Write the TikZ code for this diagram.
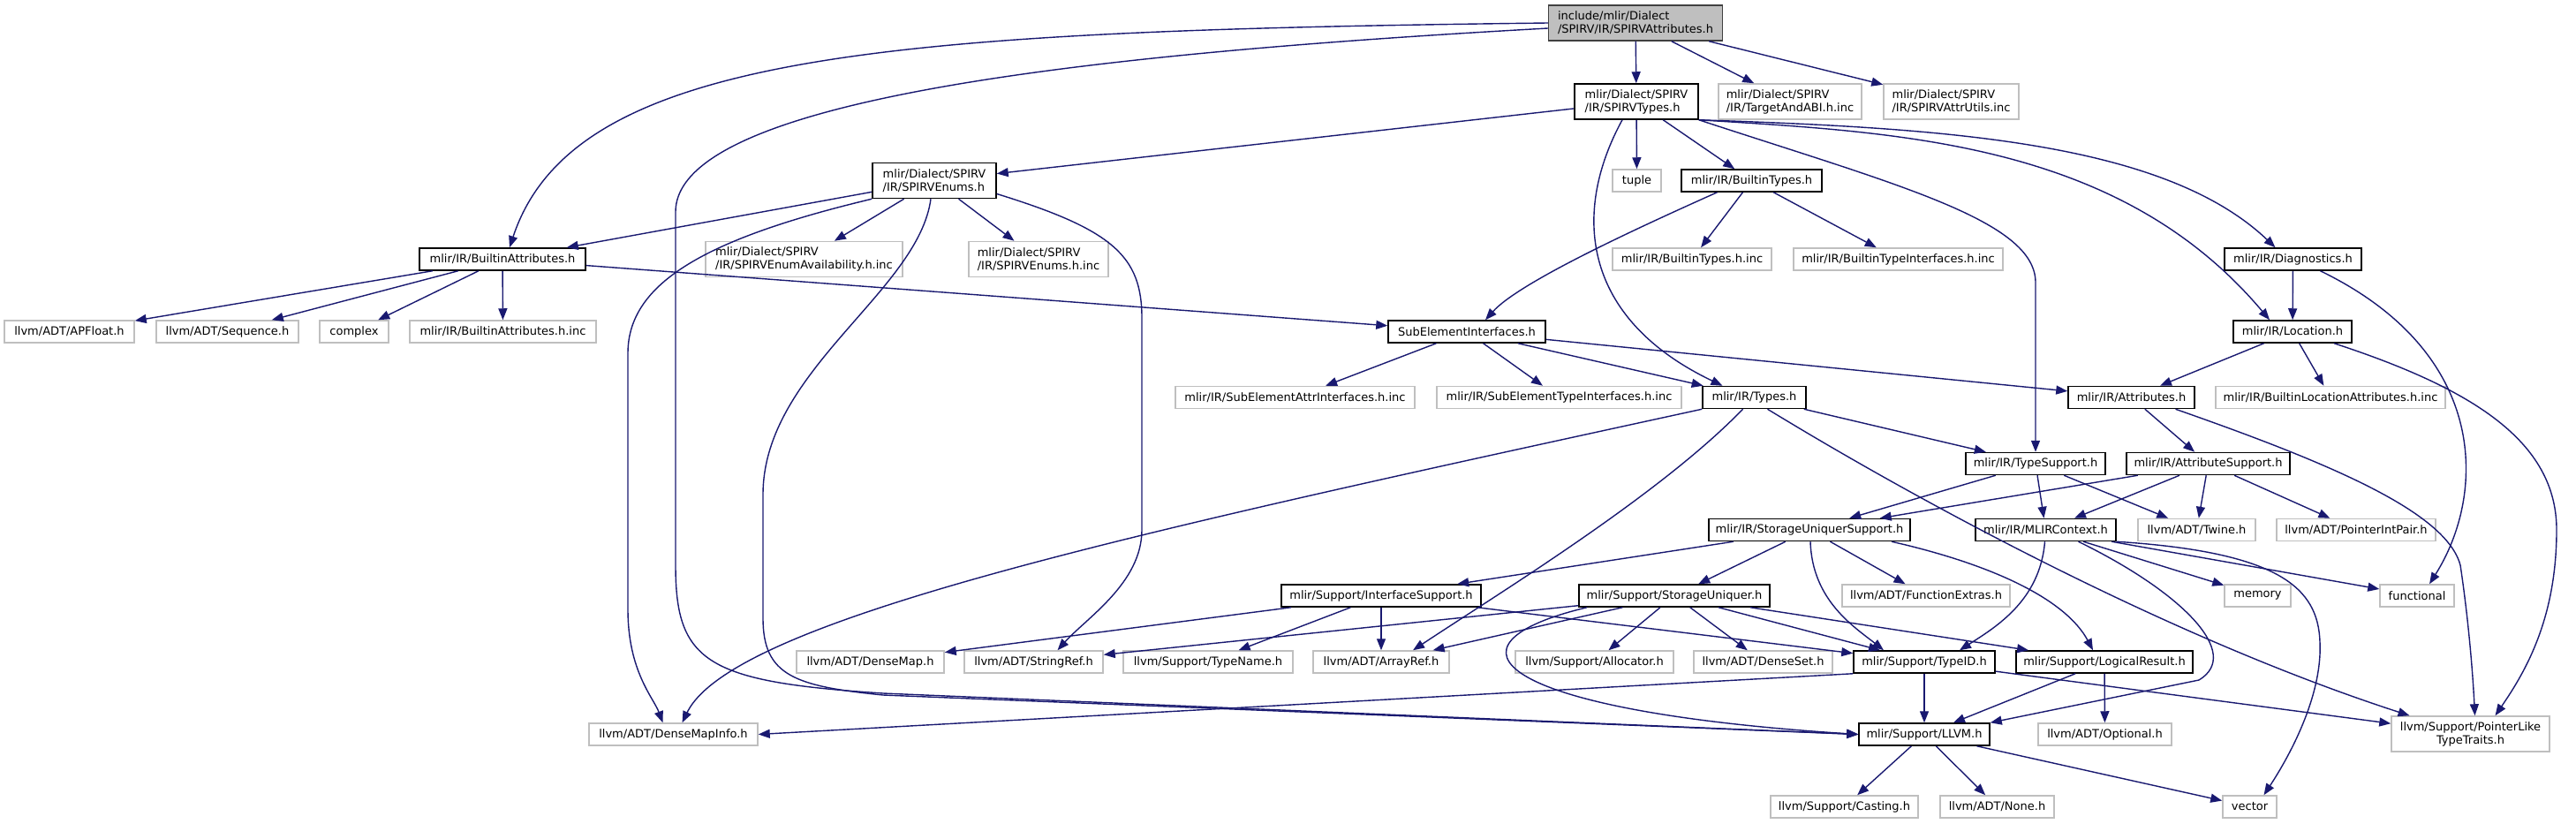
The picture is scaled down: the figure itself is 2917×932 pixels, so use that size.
\documentclass[tikz,border=0pt]{standalone}
\usepackage{fontspec}
\setmainfont{DejaVu Sans}
\usetikzlibrary{arrows.meta}
\definecolor{dxedge}{HTML}{191970}
\definecolor{dxgrey}{HTML}{BFBFBF}
\definecolor{dxrootline}{HTML}{404040}
\tikzset{
  every picture/.style={font=\fontsize{13}{15}\selectfont},
  hdr/.style={draw=black, fill=white, line width=1.5pt, inner sep=2pt, minimum height=25pt, align=center},
  ext/.style={hdr, draw=dxgrey},
  rootbox/.style={hdr, draw=dxrootline, fill=dxgrey},
  twoline/.style={minimum height=40pt, align=left},
  dep/.style={draw=dxedge, line width=1.4pt, -{Triangle[length=13pt, width=10pt]}},
}
\begin{document}
\begin{tikzpicture}[x=1pt, y=-1pt]
  \useasboundingbox (0,0) rectangle (2917,932);
  % row 0 and 1
  \node[rootbox, twoline, minimum width=197pt] (root) at (1852,26) {include/mlir/Dialect\\/SPIRV/IR/SPIRVAttributes.h};
  \node[hdr, twoline, minimum width=140pt] (spvtypes) at (1853,115) {mlir/Dialect/SPIRV\\/IR/SPIRVTypes.h};
  \node[ext, twoline, minimum width=162pt] (tabi) at (2027,115) {mlir/Dialect/SPIRV\\/IR/TargetAndABI.h.inc};
  \node[ext, twoline, minimum width=153pt] (attrutil) at (2209.5,115) {mlir/Dialect/SPIRV\\/IR/SPIRVAttrUtils.inc};
  % row 2
  \node[hdr, twoline, minimum width=140pt] (spvenums) at (1058,204.5) {mlir/Dialect/SPIRV\\/IR/SPIRVEnums.h};
  \node[ext, minimum width=55pt] (tuple) at (1853.5,204.5) {tuple};
  \node[hdr, minimum width=159pt] (btypes) at (1983.5,204.5) {mlir/IR/BuiltinTypes.h};
  % row 3
  \node[hdr, minimum width=188pt] (batt) at (569,293.5) {mlir/IR/BuiltinAttributes.h};
  \node[ext, twoline, minimum width=223pt] (enumavail) at (910.5,293.5) {mlir/Dialect/SPIRV\\/IR/SPIRVEnumAvailability.h.inc};
  \node[ext, twoline, minimum width=158pt] (enumsinc) at (1176,293.5) {mlir/Dialect/SPIRV\\/IR/SPIRVEnums.h.inc};
  \node[ext, minimum width=180pt] (btinc) at (1916,293.5) {mlir/IR/BuiltinTypes.h.inc};
  \node[ext, minimum width=237pt] (btiinc) at (2149.5,293.5) {mlir/IR/BuiltinTypeInterfaces.h.inc};
  \node[hdr, minimum width=155pt] (diag) at (2596.5,293.5) {mlir/IR/Diagnostics.h};
  % row 4
  \node[ext, minimum width=147pt] (apfloat) at (78.5,375.5) {llvm/ADT/APFloat.h};
  \node[ext, minimum width=161pt] (seq) at (257.5,375.5) {llvm/ADT/Sequence.h};
  \node[ext, minimum width=78pt] (cplx) at (401,375.5) {complex};
  \node[ext, minimum width=211pt] (bainc) at (569.5,375.5) {mlir/IR/BuiltinAttributes.h.inc};
  \node[hdr, minimum width=178pt] (subel) at (1661,375.5) {SubElementInterfaces.h};
  \node[hdr, minimum width=134pt] (loc) at (2596,375.5) {mlir/IR/Location.h};
  % row 5
  \node[ext, minimum width=271pt] (seaiinc) at (1466.5,450) {mlir/IR/SubElementAttrInterfaces.h.inc};
  \node[ext, minimum width=277pt] (setiinc) at (1765.5,450) {mlir/IR/SubElementTypeInterfaces.h.inc};
  \node[hdr, minimum width=117pt] (types) at (1986.5,450) {mlir/IR/Types.h};
  \node[hdr, minimum width=143pt] (attrs) at (2413.5,450) {mlir/IR/Attributes.h};
  \node[ext, minimum width=260pt] (blainc) at (2639,450) {mlir/IR/BuiltinLocationAttributes.h.inc};
  % row 6
  \node[hdr, minimum width=158pt] (tsup) at (2305,525) {mlir/IR/TypeSupport.h};
  \node[hdr, minimum width=185pt] (asup) at (2500.5,525) {mlir/IR/AttributeSupport.h};
  % row 7
  \node[hdr, minimum width=228pt] (sus) at (2049,600) {mlir/IR/StorageUniquerSupport.h};
  \node[hdr, minimum width=159pt] (ctx) at (2316.5,600) {mlir/IR/MLIRContext.h};
  \node[ext, minimum width=133pt] (twine) at (2487.5,600) {llvm/ADT/Twine.h};
  \node[ext, minimum width=180pt] (pip) at (2668,600) {llvm/ADT/PointerIntPair.h};
  % row 8
  \node[hdr, minimum width=226pt] (isup) at (1564,674.5) {mlir/Support/InterfaceSupport.h};
  \node[hdr, minimum width=216pt] (su) at (1896,674.5) {mlir/Support/StorageUniquer.h};
  \node[ext, minimum width=190pt] (fnext) at (2181,674.5) {llvm/ADT/FunctionExtras.h};
  \node[ext, minimum width=75pt] (memory) at (2556.5,674.5) {memory};
  \node[ext, minimum width=84pt] (functional) at (2737,674.5) {functional};
  % row 9
  \node[ext, minimum width=167pt] (dmap) at (985.5,749.5) {llvm/ADT/DenseMap.h};
  \node[ext, minimum width=157pt] (sref) at (1170.5,749.5) {llvm/ADT/StringRef.h};
  \node[ext, minimum width=192pt] (tname) at (1368,749.5) {llvm/Support/TypeName.h};
  \node[ext, minimum width=154pt] (aref) at (1564,749.5) {llvm/ADT/ArrayRef.h};
  \node[ext, minimum width=179pt] (alloc) at (1805.5,749.5) {llvm/Support/Allocator.h};
  \node[ext, minimum width=157pt] (dset) at (1996.5,749.5) {llvm/ADT/DenseSet.h};
  \node[hdr, minimum width=160pt] (tid) at (2179,749.5) {mlir/Support/TypeID.h};
  \node[hdr, minimum width=200pt] (lres) at (2383,749.5) {mlir/Support/LogicalResult.h};
  % row 10
  \node[ext, minimum width=191pt] (dmi) at (762.5,831.5) {llvm/ADT/DenseMapInfo.h};
  \node[hdr, minimum width=148pt] (llvm) at (2179,831.5) {mlir/Support/LLVM.h};
  \node[ext, minimum width=151pt] (optional) at (2383.5,831.5) {llvm/ADT/Optional.h};
  \node[ext, twoline, align=center, minimum width=179pt] (plt) at (2797.5,831) {llvm/Support/PointerLike\\TypeTraits.h};
  % row 11
  \node[ext, minimum width=167pt] (casting) at (2088.5,913.5) {llvm/Support/Casting.h};
  \node[ext, minimum width=129pt] (none) at (2261.5,913.5) {llvm/ADT/None.h};
  \node[ext, minimum width=61pt] (vector) at (2547.5,913.5) {vector};

  % straight includes
  \draw[dep] (root) -- (spvtypes);
  \draw[dep] (root) -- (tabi);
  \draw[dep] (root) -- (attrutil);
  \draw[dep] (spvtypes) -- (spvenums);
  \draw[dep] (spvtypes) -- (tuple);
  \draw[dep] (spvtypes) -- (btypes);
  \draw[dep] (spvenums) -- (batt);
  \draw[dep] (spvenums) -- (enumavail);
  \draw[dep] (spvenums) -- (enumsinc);
  \draw[dep] (batt) -- (apfloat);
  \draw[dep] (batt) -- (seq);
  \draw[dep] (batt) -- (cplx);
  \draw[dep] (batt) -- (bainc);
  \draw[dep] (batt) -- (subel);
  \draw[dep] (btypes) -- (btinc);
  \draw[dep] (btypes) -- (btiinc);
  \draw[dep] (diag) -- (loc);
  \draw[dep] (loc) -- (attrs);
  \draw[dep] (loc) -- (blainc);
  \draw[dep] (subel) -- (seaiinc);
  \draw[dep] (subel) -- (setiinc);
  \draw[dep] (subel) -- (types);
  \draw[dep] (subel) -- (attrs);
  \draw[dep] (types) -- (tsup);
  \draw[dep] (attrs) -- (asup);
  \draw[dep] (tsup) -- (sus);
  \draw[dep] (tsup) -- (ctx);
  \draw[dep] (tsup) -- (twine);
  \draw[dep] (asup) -- (sus);
  \draw[dep] (asup) -- (ctx);
  \draw[dep] (asup) -- (twine);
  \draw[dep] (asup) -- (pip);
  \draw[dep] (sus) -- (isup);
  \draw[dep] (sus) -- (su);
  \draw[dep] (sus) -- (fnext);
  \draw[dep] (ctx) -- (memory);
  \draw[dep] (ctx) -- (functional);
  \draw[dep] (isup) -- (dmap);
  \draw[dep] (isup) -- (tname);
  \draw[dep] (isup) -- (aref);
  \draw[dep] (isup) -- (tid);
  \draw[dep] (su) -- (sref);
  \draw[dep] (su) -- (aref);
  \draw[dep] (su) -- (alloc);
  \draw[dep] (su) -- (dset);
  \draw[dep] (su) -- (tid);
  \draw[dep] (su) -- (lres);
  \draw[dep] (tid) -- (llvm);
  \draw[dep] (tid) -- (plt);
  \draw[dep] (tid.south west) -- (dmi.east);
  \draw[dep] (lres) -- (llvm);
  \draw[dep] (lres) -- (optional);
  \draw[dep] (llvm) -- (casting);
  \draw[dep] (llvm) -- (none);
  \draw[dep] (llvm) -- (vector);

  % routed includes
  \draw[dep] (root.west) .. controls (1000,35) and (650,60) .. ([xshift=8pt]batt.north);
  \draw[dep] ([yshift=-6pt]root.west) .. controls (1250,60) and (765,110) .. (765,240) -- (765,640)
    .. controls (765,750) and (800,772) .. (1000,785) -- (llvm.west);
  \draw[dep] ([xshift=-16pt]spvtypes.south) .. controls (1780,240) and (1790,360) .. ([xshift=-36pt]types.north);
  \draw[dep] (spvtypes.south east) .. controls (2150,210) and (2305,250) .. (2305,320) -- (tsup.north);
  \draw[dep] (spvtypes.south east) .. controls (2150,150) and (2400,160) .. ([xshift=-26pt]loc.north);
  \draw[dep] (spvtypes.south east) .. controls (2200,145) and (2450,160) .. ([xshift=-20pt]diag.north);
  \draw[dep] (spvenums.south west) .. controls (800,270) and (711,320) .. (711,400) -- (711,690)
    .. controls (711,760) and (740,790) .. ([xshift=-12pt]dmi.north);
  \draw[dep] ([xshift=-4pt]spvenums.south) .. controls (1040,330) and (864,420) .. (864,560) -- (864,700)
    .. controls (864,765) and (900,777) .. (1000,787) -- (llvm.west);
  \draw[dep] ([yshift=-15pt]spvenums.east) .. controls (1260,260) and (1293,290) .. (1293,360) -- (1293,600)
    .. controls (1293,660) and (1230,700) .. ([xshift=27pt]sref.north);
  \draw[dep] ([xshift=-39pt]btypes.south) .. controls (1850,260) and (1720,320) .. ([xshift=21pt]subel.north);
  \draw[dep] ([xshift=31pt]diag.south) .. controls (2820,400) and (2815,560) .. ([xshift=14pt]functional.north);
  \draw[dep] ([xshift=47pt]loc.south) .. controls (2800,440) and (2895,500) .. (2895,600)
    .. controls (2895,700) and (2860,760) .. ([xshift=28pt]plt.north);
  \draw[dep] (types.south west) .. controls (1300,600) and (830,700) .. ([xshift=10pt]dmi.north);
  \draw[dep] ([xshift=-13pt]types.south) .. controls (1880,560) and (1700,670) .. ([xshift=36pt]aref.north);
  \draw[dep] ([xshift=15pt]types.south) .. controls (2160,560) and (2450,720) .. ([xshift=-69pt]plt.north);
  \draw[dep] ([xshift=50pt]attrs.south) .. controls (2640,525) and (2770,580) .. (2786,640)
    .. controls (2795,700) and (2800,760) .. ([xshift=5pt]plt.north);
  \draw[dep] ([xshift=1pt]sus.south) .. controls (2052,680) and (2100,710) .. ([xshift=-46pt]tid.north);
  \draw[dep] ([xshift=93pt]sus.south) .. controls (2260,640) and (2340,680) .. ([xshift=-13pt]lres.north);
  \draw[dep] ([xshift=-1pt]ctx.south) .. controls (2310,680) and (2260,710) .. ([xshift=40pt]tid.north);
  \draw[dep] ([xshift=37pt]ctx.south) .. controls (2470,670) and (2540,740) .. (2490,770) -- (llvm.north east);
  \draw[dep] (ctx.south east) .. controls (2580,625) and (2625,665) .. (2627,727)
    .. controls (2630,790) and (2590,860) .. ([xshift=16pt]vector.north);
  \draw[dep] ([xshift=-99pt]su.south) .. controls (1620,730) and (1690,805) .. (llvm.west);
\end{tikzpicture}
\end{document}
